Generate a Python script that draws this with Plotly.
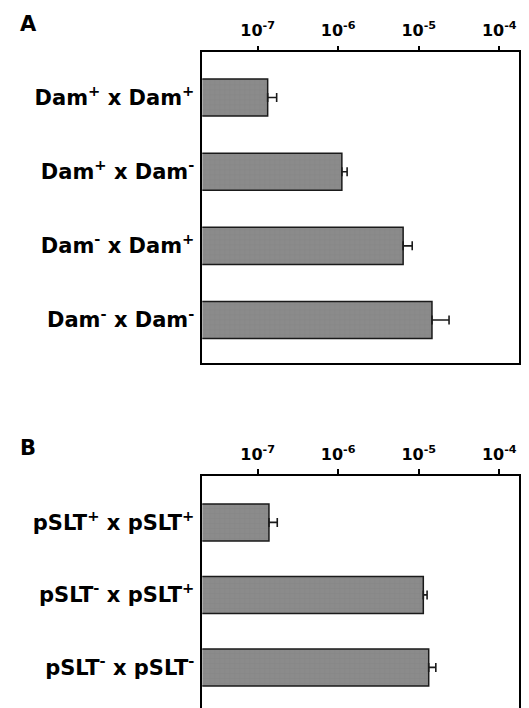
import plotly.graph_objects as go

# ---- data ----
cats_a = ["Dam<sup>+</sup> x Dam<sup>+</sup>", "Dam<sup>+</sup> x Dam<sup>-</sup>",
          "Dam<sup>-</sup> x Dam<sup>+</sup>", "Dam<sup>-</sup> x Dam<sup>-</sup>"]
vals_a = [1.33e-7, 1.11e-6, 6.4e-6, 1.46e-5]
upper_a = [1.72e-7, 1.29e-6, 8.3e-6, 2.38e-5]

cats_b = ["pSLT<sup>+</sup> x pSLT<sup>+</sup>", "pSLT<sup>-</sup> x pSLT<sup>+</sup>",
          "pSLT<sup>-</sup> x pSLT<sup>-</sup>"]
vals_b = [1.38e-7, 1.14e-5, 1.33e-5]
upper_b = [1.75e-7, 1.27e-5, 1.63e-5]

tick_vals = [1e-7, 1e-6, 1e-5, 1e-4]
tick_text = ["10<sup>-7</sup>", "10<sup>-6</sup>", "10<sup>-5</sup>", "10<sup>-4</sup>"]

# ---- layout geometry (screen pixels; page body has an 8px margin) ----
OFF = 8
W, H = 529 - OFF, 708 - OFF
x0, x1 = 202.3 - OFF, 519.3 - OFF
a_top, a_bot = 52.3 - OFF, 363 - OFF
b_top, b_bot = 476 - OFF, 708 - OFF

FONT = "DejaVu Sans"
bar_fill = "#8b8b8b"

fig = go.Figure()

def add_bars(cats, vals, upper, xa, ya, width):
    fig.add_trace(go.Bar(
        y=cats, x=vals, orientation="h", xaxis=xa, yaxis=ya, width=width,
        marker=dict(color=bar_fill, line=dict(color="#1a1a1a", width=1.5),
                    pattern=dict(shape="+", size=5, solidity=0.15,
                                 fgcolor="#7d7d7d", bgcolor=bar_fill)),
        error_x=dict(type="data", symmetric=False,
                     array=[u - v for u, v in zip(upper, vals)],
                     arrayminus=[0] * len(vals),
                     color="#1a1a1a", thickness=1.6, width=4.5),
        showlegend=False, hoverinfo="x+y",
    ))

add_bars(cats_a, vals_a, upper_a, "x", "y", 0.5)
add_bars(cats_b, vals_b, upper_b, "x2", "y2", 0.51)

xdom = [x0 / W, x1 / W]
xcommon = dict(type="log", range=[-7.688, -3.751], side="top",
               tickvals=tick_vals, ticktext=tick_text,
               ticks="outside", ticklen=5, tickwidth=1.5, tickcolor="black",
               showline=True, linecolor="black", linewidth=1.5,
               showgrid=False, zeroline=False,
               tickfont=dict(family=FONT, size=16, color="black", weight="bold"),
               ticklabelstandoff=3, domain=xdom, fixedrange=True)
ycommon = dict(showline=True, linecolor="black", linewidth=1.5, mirror=True,
               showgrid=False, zeroline=False, ticks="",
               tickfont=dict(family=FONT, size=21, color="black", weight="bold"),
               ticklabelstandoff=2, fixedrange=True)

fig.update_layout(
    width=W, height=H,
    margin=dict(l=0, r=0, t=0, b=0),
    paper_bgcolor="white", plot_bgcolor="white",
    xaxis=dict(**xcommon, anchor="y", mirror=True),
    yaxis=dict(**ycommon, anchor="x", type="category",
               range=[3.58, -0.61],
               domain=[1 - a_bot / H, 1 - a_top / H]),
    xaxis2=dict(**xcommon, anchor="y2", mirror=False),
    yaxis2=dict(**ycommon, anchor="x2", type="category",
                range=[2.56, -0.64],
                domain=[1 - b_bot / H, 1 - b_top / H]),
    annotations=[
        dict(text="A", x=(18 - OFF) / W, y=1 - (24 - OFF) / H, xref="paper", yref="paper",
             xanchor="left", yanchor="middle", showarrow=False,
             font=dict(family=FONT, size=21, color="black", weight="bold")),
        dict(text="B", x=(18 - OFF) / W, y=1 - (448 - OFF) / H, xref="paper", yref="paper",
             xanchor="left", yanchor="middle", showarrow=False,
             font=dict(family=FONT, size=21, color="black", weight="bold")),
    ],
)

fig.write_html("out.html")
